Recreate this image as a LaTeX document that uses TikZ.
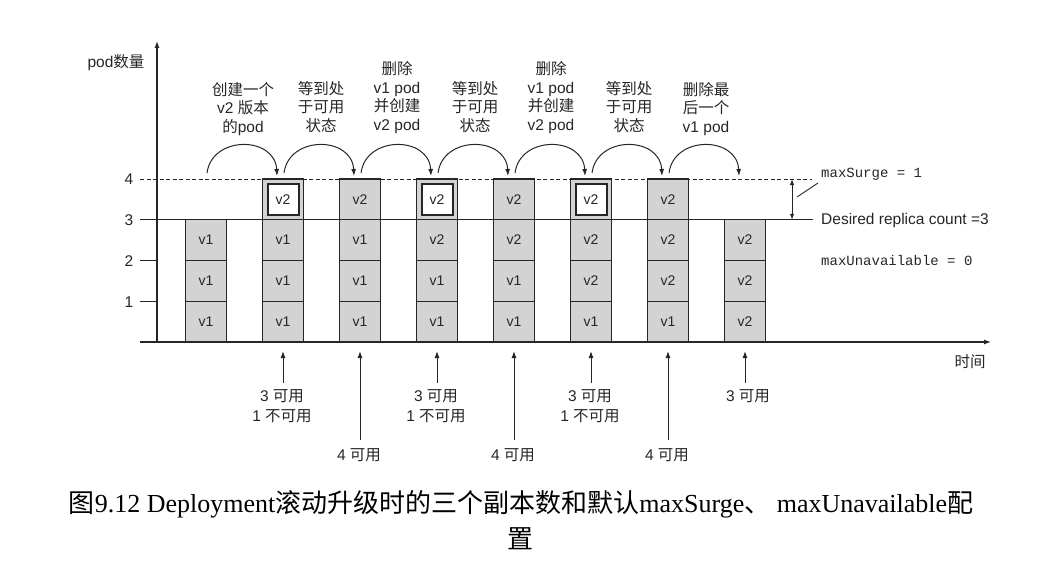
\documentclass[tikz,border=0pt]{standalone}
\usepackage{fontspec}
\setmainfont{Liberation Sans}
\newfontfamily\cjk{Noto Sans CJK SC}
\newfontfamily\capserif{Liberation Serif}
\newfontfamily\monof{Liberation Mono}
\usetikzlibrary{arrows.meta}
\definecolor{cellgray}{HTML}{D3D3D3}
\definecolor{ink}{HTML}{262626}
\begin{document}
\begin{tikzpicture}[x=1pt,y=-1pt,
  lbl/.style={font=\fontsize{15.5}{18.7}\selectfont, text=ink, align=center, inner sep=0},
  botlbl/.style={font=\fontsize{15.5}{20}\selectfont, text=ink, align=center, inner sep=0, anchor=north},
  mono/.style={font=\monof\fontsize{14}{16}\selectfont, text=ink, inner sep=0, anchor=west},
  cell/.style={draw=ink, fill=cellgray, line width=1.1pt, minimum width=41pt, minimum height=40.75pt, inner sep=0, font=\fontsize{14}{16}\selectfont, text=ink},
  newbox/.style={draw=ink, fill=white, line width=2pt, minimum width=31pt, minimum height=31pt, inner sep=0, font=\fontsize{14}{16}\selectfont, text=ink},
  tip/.style={-{Latex[length=7pt,width=5pt]}, line width=1pt, draw=ink},
  axis/.style={line width=1.2pt, draw=ink},
]
\useasboundingbox (0,0) rectangle (1041,575);

% level lines
\draw[line width=1pt, ink] (140,219.75) -- (813,219.75);
\draw[line width=1pt, ink, dash pattern=on 4pt off 2.5pt] (140,179) -- (812,179);

% axes
\coordinate (xl) at (140,342);
\coordinate (xend) at (991,342);
\coordinate (O) at (157,342);
\coordinate (ytop) at (157,41);
\draw[axis, -{Latex[length=7pt,width=5pt]}] (xl) -- (xend);
\draw[axis, -{Latex[length=7pt,width=5pt]}] (O) -- (ytop);
\draw[axis] (140,301.25) -- (157,301.25);
\draw[axis] (140,260.5) -- (157,260.5);

% tick labels
\node[lbl, anchor=east] (t1) at (133.5,302) {1};
\node[lbl, anchor=east] (t2) at (133.5,261) {2};
\node[lbl, anchor=east] (t3) at (133.5,220) {3};
\node[lbl, anchor=east] (t4) at (133.5,179) {4};
\node[lbl] (ylab) at (116,63) {pod{\cjk 数量}};
\node[lbl] (xlab) at (970,362) {{\cjk 时间}};

% columns
\foreach \i/\ra/\rb/\rc in {1/v1/v1/v1, 2/v1/v1/v1, 3/v1/v1/v1, 4/v1/v1/v2, 5/v1/v1/v2, 6/v1/v2/v2, 7/v1/v2/v2, 8/v2/v2/v2}{
  \node[cell] (c\i r1) at ({206+77*(\i-1)},321.6) {\ra};
  \node[cell] (c\i r2) at ({206+77*(\i-1)},280.9) {\rb};
  \node[cell] (c\i r3) at ({206+77*(\i-1)},240.1) {\rc};
}
\foreach \i in {2,4,6}{
  \node[cell] (c\i r4) at ({206+77*(\i-1)},199.4) {};
  \node[newbox] (n\i) at (c\i r4) {v2};
}
\foreach \i in {3,5,7}{
  \node[cell] (c\i r4) at ({206+77*(\i-1)},199.4) {v2};
}

% top arcs
\foreach \i in {1,...,7}{
  \coordinate (as\i) at ({206+77*(\i-1)+1},173);
  \coordinate (ae\i) at ({206+77*\i-6},176);
  \draw[tip] (as\i) .. controls +(5,-38) and +(-2,-40) .. (ae\i);
}

% top labels
\node[lbl, anchor=south] (L1) at (243,136) {{\cjk 创建一个}\\v2 {\cjk 版本}\\{\cjk 的}pod};
\node[lbl, anchor=south] (L2) at (321,133) {{\cjk 等到处}\\{\cjk 于可用}\\{\cjk 状态}};
\node[lbl, anchor=south] (L3) at (397,134) {{\cjk 删除}\\v1 pod\\{\cjk 并创建}\\v2 pod};
\node[lbl, anchor=south] (L4) at (475,133) {{\cjk 等到处}\\{\cjk 于可用}\\{\cjk 状态}};
\node[lbl, anchor=south] (L5) at (551,134) {{\cjk 删除}\\v1 pod\\{\cjk 并创建}\\v2 pod};
\node[lbl, anchor=south] (L6) at (629,133) {{\cjk 等到处}\\{\cjk 于可用}\\{\cjk 状态}};
\node[lbl, anchor=south] (L7) at (706,136) {{\cjk 删除最}\\{\cjk 后一个}\\v1 pod};

% bottom arrows and labels
\foreach \i in {2,4,6,8}{
  \coordinate (tail\i) at ({206+77*(\i-1)},383);
  \coordinate (tipb\i) at ({206+77*(\i-1)},351);
  \draw[tip] (tail\i) -- (tipb\i);
}
\foreach \i in {3,5,7}{
  \coordinate (tail\i) at ({206+77*(\i-1)},440);
  \coordinate (tipb\i) at ({206+77*(\i-1)},351);
  \draw[tip] (tail\i) -- (tipb\i);
}
\foreach \i in {2,4,6}{
  \node[botlbl] (B\i) at ({206+77*(\i-1)-1},389) {3 {\cjk 可用}\\1 {\cjk 不可用}};
}
\node[botlbl] (B8) at (748,389) {3 {\cjk 可用}};
\foreach \i in {3,5,7}{
  \node[botlbl] (B\i) at ({206+77*(\i-1)-1},448.5) {4 {\cjk 可用}};
}

% right side annotations
\coordinate (ms1) at (792,179);
\coordinate (ms2) at (792,219.75);
\draw[{Latex[length=6pt,width=4.5pt]}-{Latex[length=6pt,width=4.5pt]}, line width=1pt, ink] (ms1) -- (ms2);
\node[mono] (msl) at (821,174) {maxSurge = 1};
\coordinate (lead1) at (797,197);
\coordinate (lead2) at (818,183);
\draw[line width=0.9pt, ink] (lead1) -- (lead2);
\node[lbl, anchor=west] (drc) at (821,220) {Desired replica count =3};
\node[mono] (mul) at (821,260) {maxUnavailable = 0};

% caption
\node[anchor=base, inner sep=0, font=\capserif\fontsize{26}{30}\selectfont, text=black] (cap1) at (521,512)
  {{\cjk 图}9.12 Deployment{\cjk 滚动升级时的三个副本数和默认}maxSurge{\cjk 、} maxUnavailable{\cjk 配}};
\node[anchor=base, inner sep=0, font=\capserif\fontsize{26}{30}\selectfont, text=black] (cap2) at (520,548) {{\cjk 置}};
\end{tikzpicture}
\end{document}
